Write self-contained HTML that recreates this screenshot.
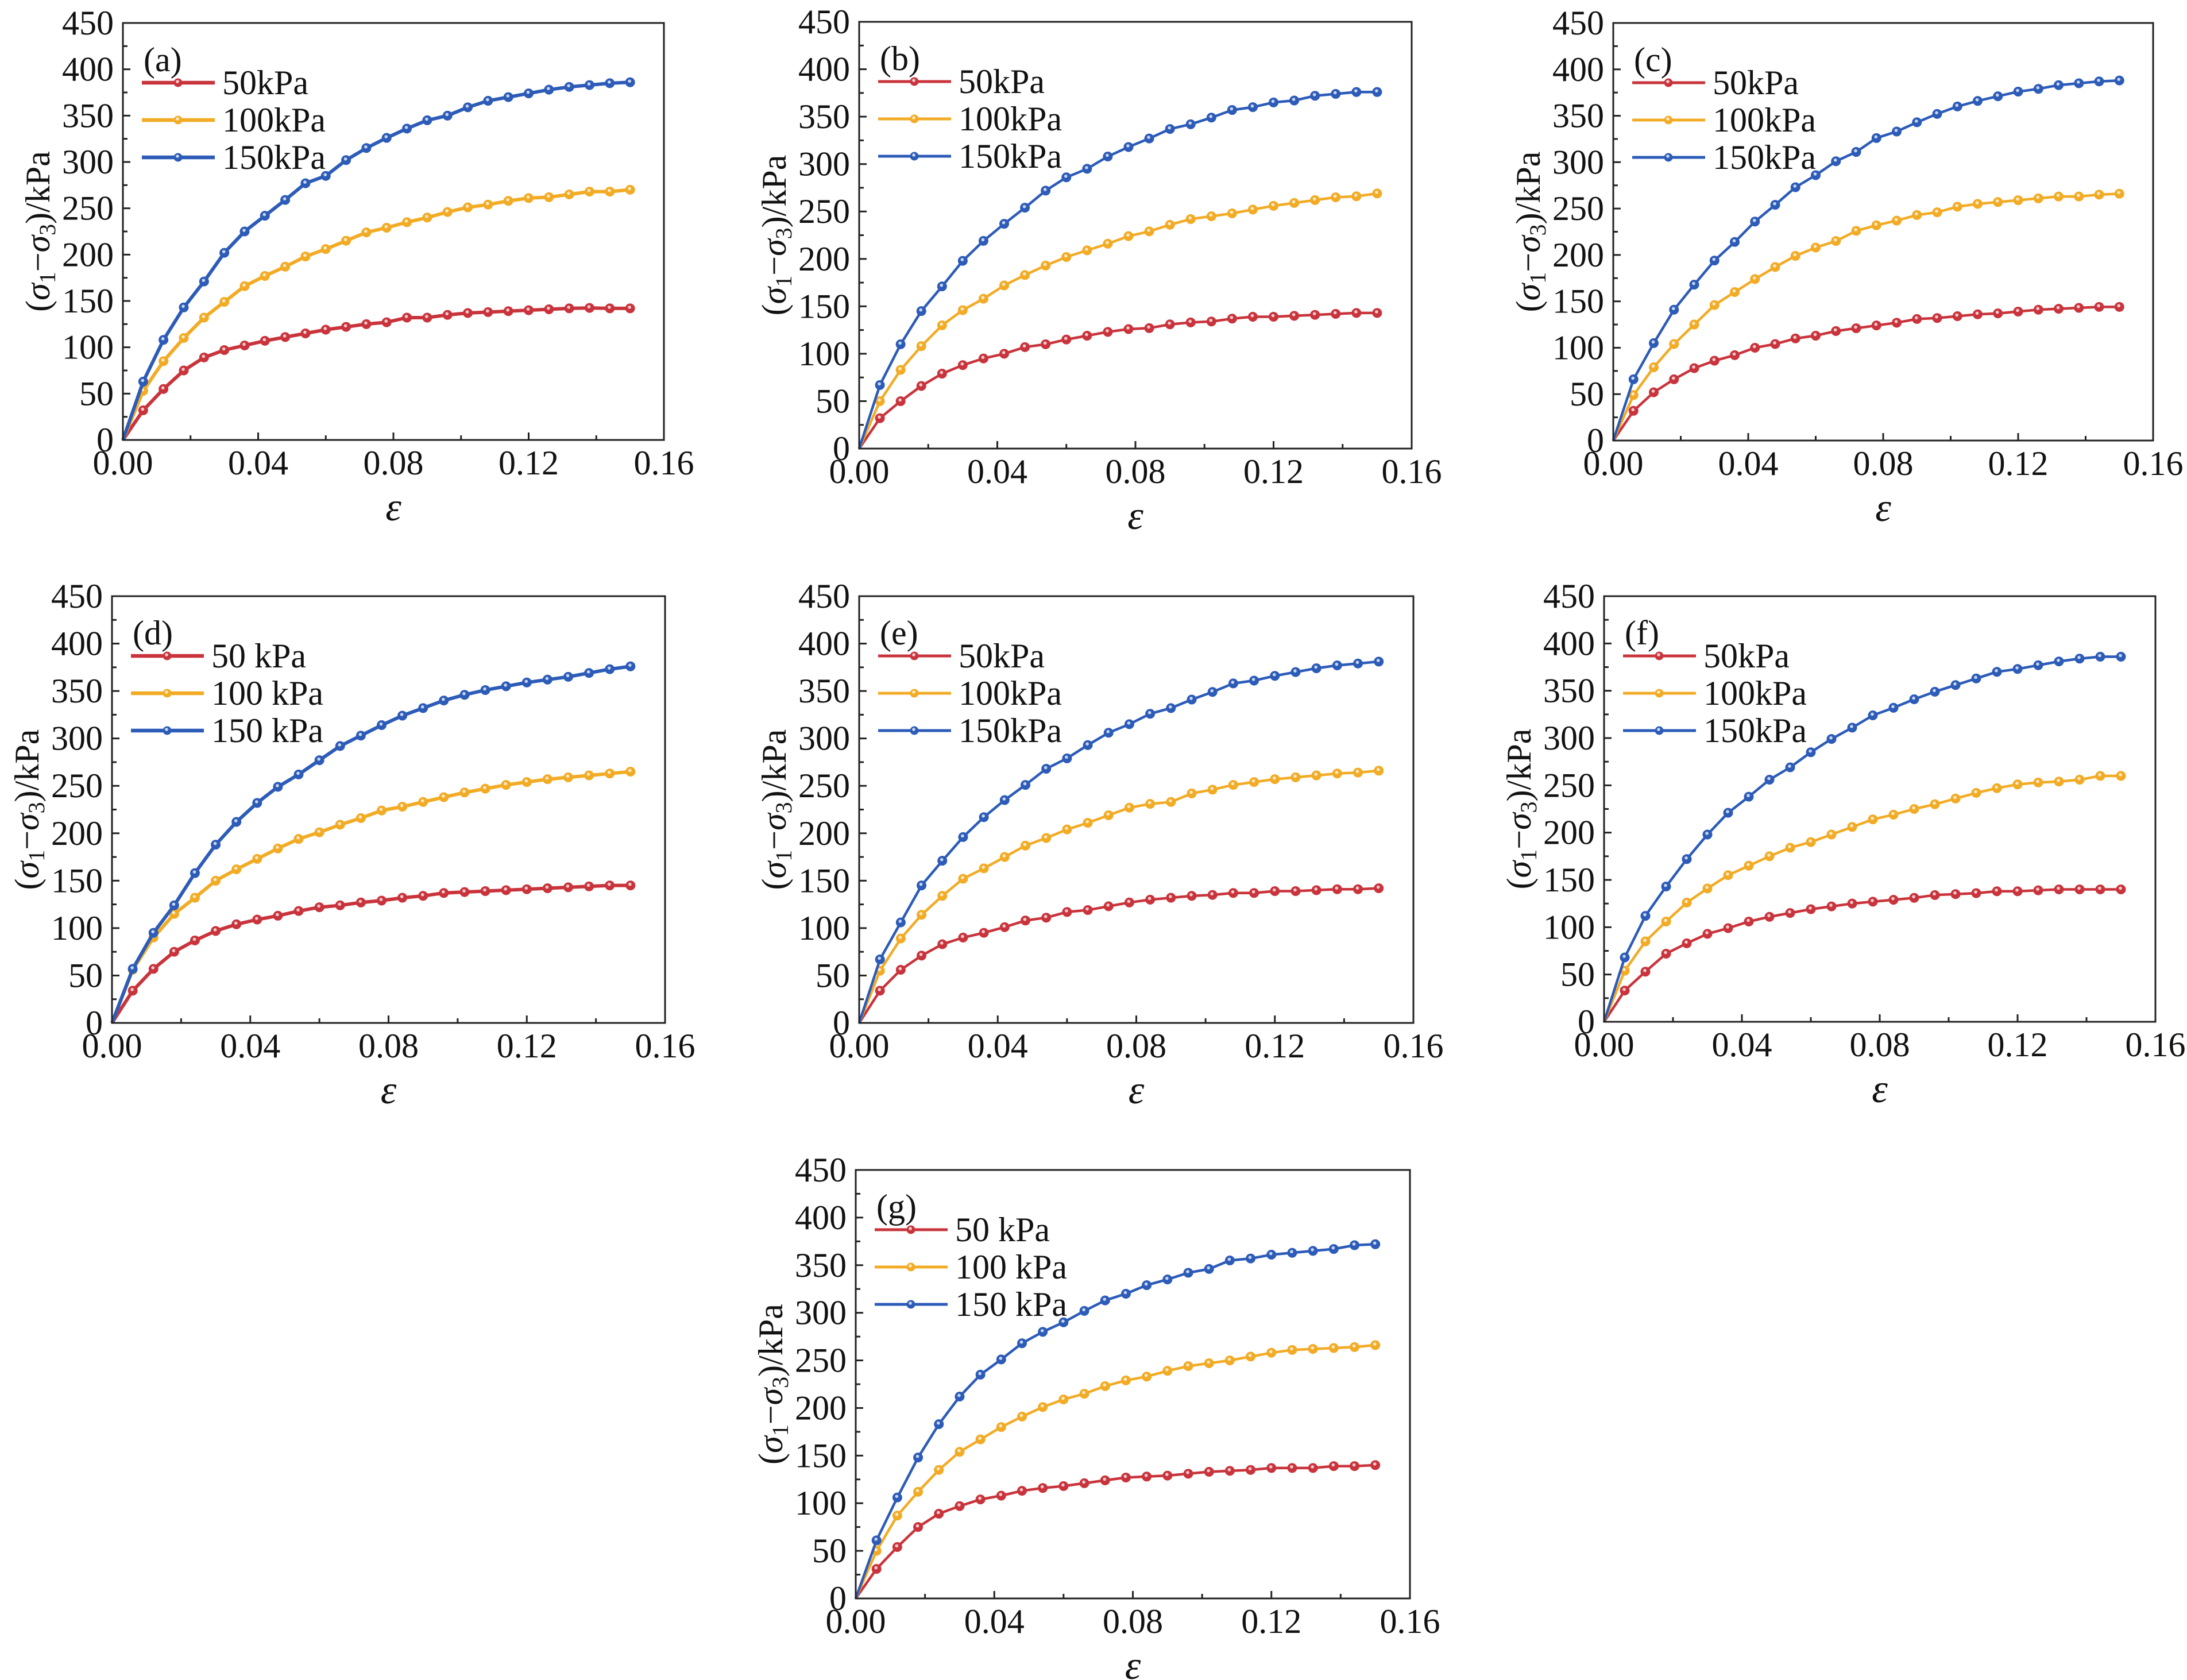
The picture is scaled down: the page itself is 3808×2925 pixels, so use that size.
<!DOCTYPE html>
<html><head><meta charset="utf-8">
<style>
html,body{margin:0;padding:0;background:#fff;}
svg{display:block;font-family:"Liberation Serif","Times New Roman",serif;}
svg text{font-family:"Liberation Serif","Times New Roman",serif;fill:#111;}
</style></head>
<body>
<svg id="fig" width="3808" height="2925" viewBox="0 0 3808 2925" xmlns="http://www.w3.org/2000/svg" font-family="Liberation Serif, Times New Roman, serif"></svg>
<script>
const strainX = [0,0.006,0.012,0.018,0.024,0.030,0.036,0.042,0.048,0.054,0.060,0.066,0.072,0.078,0.084,0.090,0.096,0.102,0.108,0.114,0.120,0.126,0.132,0.138,0.144,0.150];
const xTickLabels = ["0.00","0.04","0.08","0.12","0.16"];
const xTickValues = [0,0.04,0.08,0.12,0.16];
const yTickValues = [0,50,100,150,200,250,300,350,400,450];
const seriesColors = ["#c9343c","#f2ab25","#2c5bb8"];

const a50 = [0,32,55,75,89,97,102,107,111,115,119,122,125,127,132,132,135,137,138,139,140,141,142,142.5,142,142];
const a100 = [0,53,85,110,132,149,166,177,187,198,206,215,224,229,235,240,246,251,254,258,261,262,265,268,268,270];
const a150 = [0,63,108,143,171,202,225,242,259,277,285,302,315,326,336,345,350,359,366,370,374,378,381,383,385,386];

const b50 = [0,32,50,66,79,88,95,100,107,110,115,119,123,126,127,131,133,134,137,139,139,140,141,142,143,143];
const b100 = [0,50,83,108,130,146,158,172,183,193,202,209,216,224,229,236,242,245,248,252,256,259,262,265,266,269];
const b150 = [0,67,110,145,171,198,219,237,254,272,286,295,308,318,327,337,342,349,357,360,365,367,372,374,376,376];

const c50 = [0,32,52,66,78,86,92,100,104,110,113,118,121,124,127,131,132,134,136,137,139,141,142,143,144,144];
const c100 = [0,49,79,104,125,146,160,174,187,199,208,215,226,232,237,243,246,252,255,257,259,261,263,263,265,266];
const c150 = [0,66,105,141,168,194,214,236,254,273,286,301,311,326,333,343,352,360,366,371,376,379,383,385,387,388];

const d50 = [0,34,57,75,87,97,104,109,113,118,122,124,127,129,132,134,137,138,139,140,141,142,143,144,145,145];
const d100 = [0,56,90,115,132,150,162,173,184,194,201,209,216,224,228,233,238,243,247,251,254,257,259,261,263,265];
const d150 = [0,57,95,124,158,188,212,232,249,262,277,292,303,314,324,332,340,346,351,355,359,362,365,369,373,376];

const e50 = [0,34,56,71,83,90,95,101,108,111,117,119,123,127,130,132,134,135,137,137,139,139,140,141,141,142];
const e100 = [0,55,89,114,134,152,163,175,187,195,204,211,219,227,231,233,242,246,251,254,257,259,261,263,264,266];
const e150 = [0,67,106,145,171,196,217,235,251,268,279,293,306,315,326,332,341,349,358,361,366,370,374,377,379,381];

const f50 = [0,33,53,72,83,93,99,106,111,115,119,122,125,127,129,131,134,135,136,138,138,139,140,140,140,140];
const f100 = [0,54,85,106,126,141,155,165,175,184,190,198,206,214,219,225,230,236,242,247,251,253,254,256,260,260];
const f150 = [0,68,112,143,172,198,221,238,256,269,285,299,311,324,332,341,349,356,363,370,373,377,381,384,386,386];

const g50 = [0,31,54,75,89,97,104,108,113,116,118,121,124,127,128,129,131,133,134,135,137,137,137,139,139,140];
const g100 = [0,50,87,112,135,154,167,180,191,201,209,215,223,229,233,239,244,247,250,254,258,261,262,263,264,266];
const g150 = [0,61,106,148,183,212,235,251,268,280,290,302,313,320,329,335,342,346,355,357,361,363,365,367,371,372];

const panels = [
  {id:"a",L:214,R:1156,T:40,B:766,s:[a50,a100,a150],leg:["50kPa","100kPa","150kPa"],lw:6},
  {id:"b",L:1496,R:2458,T:38,B:781,s:[b50,b100,b150],leg:["50kPa","100kPa","150kPa"],lw:4.5},
  {id:"c",L:2809,R:3749,T:40,B:767,s:[c50,c100,c150],leg:["50kPa","100kPa","150kPa"],lw:4.5},
  {id:"d",L:195,R:1158,T:1038,B:1781,s:[d50,d100,d150],leg:["50 kPa","100 kPa","150 kPa"],lw:6},
  {id:"e",L:1496,R:2461,T:1038,B:1781,s:[e50,e100,e150],leg:["50kPa","100kPa","150kPa"],lw:4.5},
  {id:"f",L:2793,R:3753,T:1038,B:1779,s:[f50,f100,f150],leg:["50kPa","100kPa","150kPa"],lw:4.5},
  {id:"g",L:1490,R:2455,T:2037,B:2783,s:[g50,g100,g150],leg:["50 kPa","100 kPa","150 kPa"],lw:4.5}
];

const NS = "http://www.w3.org/2000/svg";
const FONT = "Liberation Serif, Times New Roman, serif";
const fig = document.getElementById("fig");
function mk(tag, attrs, parent){
  const e = document.createElementNS(NS, tag);
  for (const k in attrs) e.setAttribute(k, attrs[k]);
  if (tag === "text") e.setAttribute("font-family", FONT);
  parent.appendChild(e);
  return e;
}
const seriesNames = ["50kpa","100kpa","150kpa"];

panels.forEach(p => {
  const g = mk("g", {}, fig);
  
  
  const W = p.R - p.L, H = p.B - p.T;
  const xs = v => p.L + v / 0.16 * W;
  const ys = v => p.B - v / 450 * H;

  for (let i = 0; i <= 8; i++) {
    const x = xs(i * 0.02), len = i % 2 === 0 ? 13 : 8;
    const t = mk("line", {x1:x, x2:x, y1:p.B, y2:p.B - len, stroke:"#222", "stroke-width":3}, g);
    
    
  }
  for (let i = 0; i <= 18; i++) {
    const y = ys(i * 25), len = i % 2 === 0 ? 13 : 8;
    const t = mk("line", {x1:p.L, x2:p.L + len, y1:y, y2:y, stroke:"#222", "stroke-width":3}, g);
    
    
  }
  xTickValues.forEach((v, i) => {
    const t = mk("text", {x:xs(v), y:p.B + 60, "font-size":60, "text-anchor":"middle"}, g);
    t.textContent = xTickLabels[i];
    
    
  });
  yTickValues.forEach(v => {
    const t = mk("text", {x:p.L - 16, y:ys(v) + 20, "font-size":60, "text-anchor":"end"}, g);
    t.textContent = String(v);
    
    
  });

  const xt = mk("text", {x:(p.L + p.R) / 2, y:p.B + 140, "font-size":70, "font-style":"italic", "text-anchor":"middle"}, g);
  xt.textContent = "ε";
  
  

  const cx = p.L - 128, cy = (p.T + p.B) / 2;
  const yt = mk("text", {x:cx, y:cy, "font-size":60, "text-anchor":"middle", transform:`rotate(-90 ${cx} ${cy})`}, g);
  
  
  yt.innerHTML = '(<tspan font-style="italic">σ</tspan><tspan font-size="40" dy="10">1</tspan><tspan dy="-10">−</tspan><tspan font-style="italic">σ</tspan><tspan font-size="40" dy="10">3</tspan><tspan dy="-10">)/kPa</tspan>';

  p.s.forEach((arr, si) => {
    const col = seriesColors[si];
    const d = arr.map((v, i) => (i ? "L" : "M") + xs(strainX[i]).toFixed(1) + " " + ys(v).toFixed(1)).join(" ");
    const path = mk("path", {d:d, fill:"none", stroke:col, "stroke-width":p.lw, "stroke-linejoin":"round"}, g);
    
    
    arr.forEach((v, i) => {
      if (i === 0) return;
      const c = mk("circle", {cx:xs(strainX[i]), cy:ys(v), r:7.5, fill:col, stroke:col, "stroke-width":2}, g);
      
      
      const h = mk("circle", {cx:xs(strainX[i]) - 1, cy:ys(v) - 2, r:2.8, fill:"#fff", opacity:0.75}, g);
      
      
    });
  });

  const fr = mk("rect", {x:p.L, y:p.T, width:W, height:H, fill:"none", stroke:"#222", "stroke-width":3}, g);
  
  

  const pl = mk("text", {x:p.L + 36, y:p.T + 84, "font-size":60}, g);
  pl.textContent = "(" + p.id + ")";
  
  

  const lg = mk("g", {}, g);
  
  
  p.leg.forEach((lab, si) => {
    const y = p.T + 104 + si * 65, col = seriesColors[si];
    const ln = mk("line", {x1:p.L + 33, x2:p.L + 160, y1:y, y2:y, stroke:col, "stroke-width":p.lw + 0.5}, lg);
    
    
    const mc = mk("circle", {cx:p.L + 96, cy:y, r:7.5, fill:col}, lg);
    
    
    const mh = mk("circle", {cx:p.L + 95, cy:y - 2, r:2.8, fill:"#fff", opacity:0.75}, lg);
    
    
    const tx = mk("text", {x:p.L + 173, y:y + 20, "font-size":60}, lg);
    tx.textContent = lab;
    
    
  });
});
</script>
</body></html>
